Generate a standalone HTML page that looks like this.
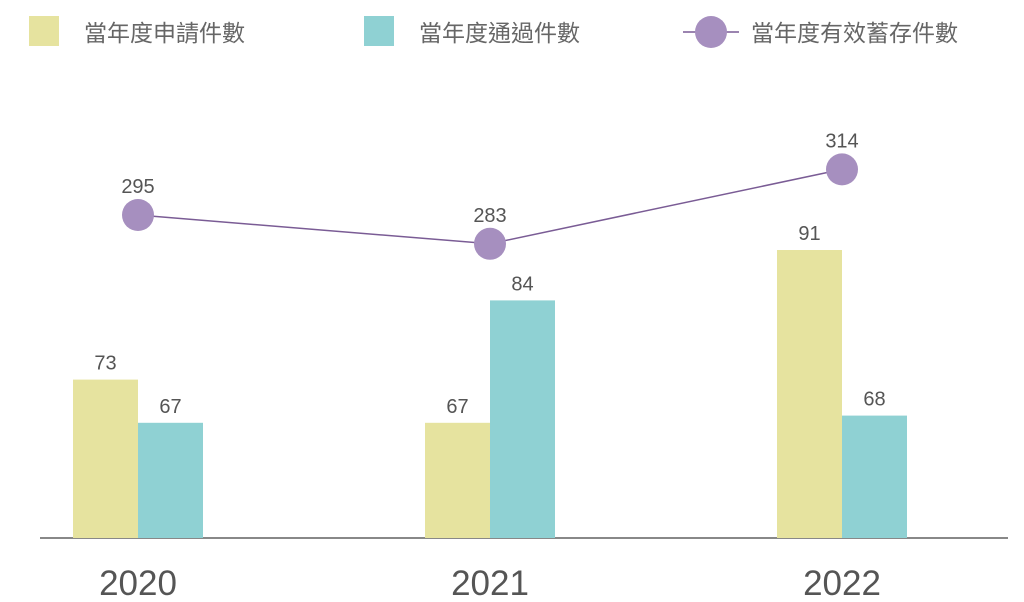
<!DOCTYPE html>
<html><head><meta charset="utf-8"><style>
html,body{margin:0;padding:0;background:#fff;width:1024px;height:602px;overflow:hidden}
svg text{font-family:"Liberation Sans","Noto Sans CJK TC",sans-serif}
</style></head><body>
<svg id="chart" width="1024" height="602" xmlns="http://www.w3.org/2000/svg">
<g>
 <rect x="29" y="16" width="30" height="30" fill="#e6e39f"/>
 <text x="84" y="41" font-size="23" fill="#666">當年度申請件數</text>
 <rect x="364" y="16" width="30" height="30" fill="#8fd1d3"/>
 <text x="419" y="41" font-size="23" fill="#666">當年度通過件數</text>
 <line x1="683" y1="32" x2="739" y2="32" stroke="#7a5c95" stroke-width="1.5"/>
 <circle cx="711" cy="32" r="16" fill="#a68fbf"/>
 <text x="751" y="41" font-size="23" fill="#666">當年度有效蓄存件數</text>
</g>
<line x1="40" y1="538" x2="1008" y2="538" stroke="#888" stroke-width="2"/>
<g id="marks"></g>
</svg>
<script>
const categories = ["2020","2021","2022"];
const applications = [73, 67, 91];
const approvals = [67, 84, 68];
const validStock = [295, 283, 314];

const base = 538;
function xCenter(i){ return 138 + i*352; }
function barH(v){ return (v - 51) * 7.2; }
function yLine(v){ return 215 - (v - 295) * 2.4; }
const NS = "http://www.w3.org/2000/svg";
const g = document.getElementById("marks");
function mk(tag, attrs){ const e=document.createElementNS(NS,tag); for(const k in attrs) e.setAttribute(k,attrs[k]); g.appendChild(e); return e; }

categories.forEach((c,i)=>{
  const cx = xCenter(i);
  const h1 = barH(applications[i]);
  const b1 = mk("rect",{x:cx-65,y:base-h1,width:65,height:h1,fill:"#e6e39f"});
  
  
  const t1 = mk("text",{x:cx-32.5,y:base-h1-10,"text-anchor":"middle","font-size":"20",fill:"#555"});
  t1.textContent = applications[i];
  
  
  const h2 = barH(approvals[i]);
  const b2 = mk("rect",{x:cx,y:base-h2,width:65,height:h2,fill:"#8fd1d3"});
  
  
  const t2 = mk("text",{x:cx+32.5,y:base-h2-10,"text-anchor":"middle","font-size":"20",fill:"#555"});
  t2.textContent = approvals[i];
  
  
  const yl = mk("text",{x:cx,y:595,"text-anchor":"middle","font-size":"35",fill:"#555"});
  yl.textContent = c;
  
  
});
const pts = validStock.map((v,i)=>xCenter(i)+","+yLine(v)).join(" ");
const pl = mk("polyline",{points:pts,fill:"none",stroke:"#7a5c95","stroke-width":"1.5"});


validStock.forEach((v,i)=>{
  const c = mk("circle",{cx:xCenter(i),cy:yLine(v),r:16,fill:"#a68fbf"});
  
  
  const t = mk("text",{x:xCenter(i),y:yLine(v)-22,"text-anchor":"middle","font-size":"20",fill:"#555"});
  t.textContent = v;
  
  
});
</script>
</body></html>
